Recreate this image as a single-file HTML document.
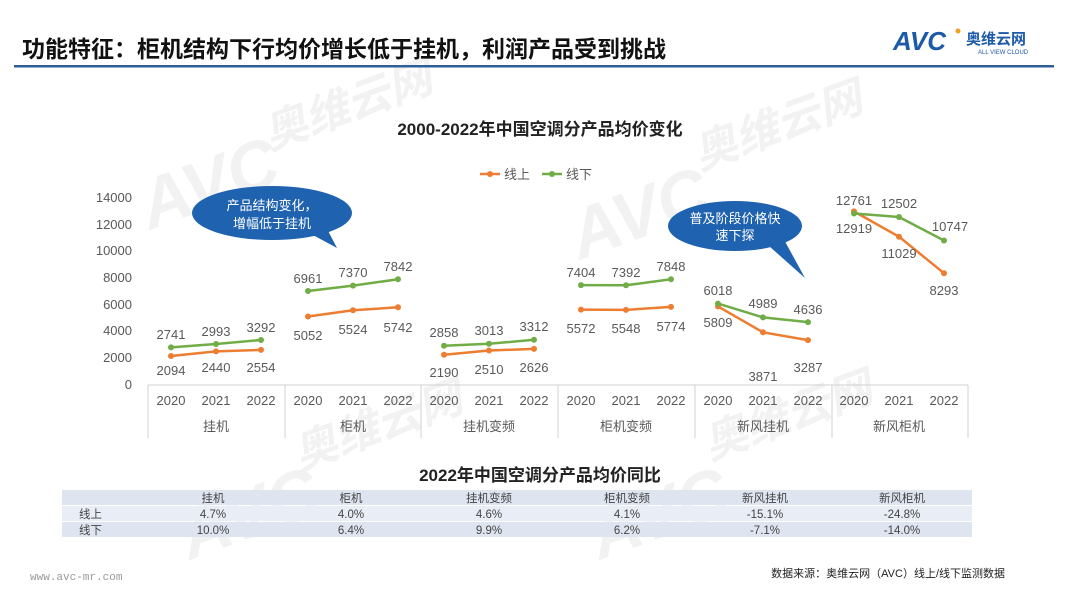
<!DOCTYPE html>
<html><head><meta charset="utf-8"><style>
body{margin:0;width:1080px;height:608px;background:#fff;overflow:hidden;font-family:"Liberation Sans","Noto Sans CJK SC",sans-serif;}
</style></head><body>
<svg width="1080" height="608" xmlns="http://www.w3.org/2000/svg" font-family="Liberation Sans, Noto Sans CJK SC, sans-serif">
<g fill="#f2f2f2" font-weight="bold" font-style="italic">
<text x="150" y="230" font-size="70" transform="rotate(-20 150 230)">AVC</text>
<text x="270" y="150" font-size="44" transform="rotate(-20 270 150)">奥维云网</text>
<text x="580" y="260" font-size="70" transform="rotate(-20 580 260)">AVC</text>
<text x="700" y="170" font-size="44" transform="rotate(-20 700 170)">奥维云网</text>
<text x="190" y="560" font-size="70" transform="rotate(-20 190 560)">AVC</text>
<text x="300" y="470" font-size="44" transform="rotate(-20 300 470)">奥维云网</text>
<text x="600" y="560" font-size="70" transform="rotate(-20 600 560)">AVC</text>
<text x="710" y="460" font-size="44" transform="rotate(-20 710 460)">奥维云网</text>
</g>
<text x="22" y="57" font-size="23" font-weight="bold" fill="#111">功能特征：柜机结构下行均价增长低于挂机，利润产品受到挑战</text>
<rect x="14" y="65" width="1040" height="2.5" fill="#2f5f9a"/>
<text x="893" y="50" font-size="26" font-weight="bold" font-style="italic" fill="#1d5aa8">AVC</text>
<circle cx="958" cy="31" r="2.5" fill="#f0a020"/>
<text x="966" y="44" font-size="15" font-weight="bold" fill="#1d5aa8">奥维云网</text>
<text x="978" y="54" font-size="6" fill="#1d5aa8">ALL VIEW CLOUD</text>
<text x="540" y="135" font-size="17" font-weight="bold" text-anchor="middle" fill="#222">2000-2022年中国空调分产品均价变化</text>
<line x1="480" y1="174" x2="500" y2="174" stroke="#ed7d31" stroke-width="2.5"/><circle cx="490" cy="174" r="3" fill="#ed7d31"/>
<text x="504" y="179" font-size="13" fill="#595959">线上</text>
<line x1="542" y1="174" x2="562" y2="174" stroke="#70ad47" stroke-width="2.5"/><circle cx="552" cy="174" r="3" fill="#70ad47"/>
<text x="566" y="179" font-size="13" fill="#595959">线下</text>
<g font-size="13" fill="#595959" text-anchor="end">
<text x="132" y="202">14000</text><text x="132" y="229">12000</text><text x="132" y="255">10000</text>
<text x="132" y="282">8000</text><text x="132" y="309">6000</text><text x="132" y="335">4000</text>
<text x="132" y="362">2000</text><text x="132" y="389">0</text>
</g>
<g stroke="#d0d0d0" stroke-width="1">
<line x1="148" y1="385" x2="968" y2="385"/>
<line x1="148" y1="385" x2="148" y2="438"/><line x1="285" y1="385" x2="285" y2="438"/>
<line x1="421" y1="385" x2="421" y2="438"/><line x1="558" y1="385" x2="558" y2="438"/>
<line x1="695" y1="385" x2="695" y2="438"/><line x1="832" y1="385" x2="832" y2="438"/>
<line x1="968" y1="385" x2="968" y2="438"/>
</g>
<g font-size="13" fill="#595959" text-anchor="middle">
<text x="171" y="405">2020</text><text x="216" y="405">2021</text><text x="261" y="405">2022</text>
<text x="308" y="405">2020</text><text x="353" y="405">2021</text><text x="398" y="405">2022</text>
<text x="444" y="405">2020</text><text x="489" y="405">2021</text><text x="534" y="405">2022</text>
<text x="581" y="405">2020</text><text x="626" y="405">2021</text><text x="671" y="405">2022</text>
<text x="718" y="405">2020</text><text x="763" y="405">2021</text><text x="808" y="405">2022</text>
<text x="854" y="405">2020</text><text x="899" y="405">2021</text><text x="944" y="405">2022</text>
<text x="216" y="431">挂机</text><text x="353" y="431">柜机</text><text x="489" y="431">挂机变频</text>
<text x="626" y="431">柜机变频</text><text x="763" y="431">新风挂机</text><text x="899" y="431">新风柜机</text>
</g>
<g fill="none" stroke-width="2.5">
<polyline stroke="#ed7d31" points="171,356 216,351.4 261,349.9"/>
<polyline stroke="#70ad47" points="171,347.4 216,344 261,340"/>
<polyline stroke="#ed7d31" points="308,316.5 353,310.2 398,307.3"/>
<polyline stroke="#70ad47" points="308,291 353,285.6 398,279.3"/>
<polyline stroke="#ed7d31" points="444,354.7 489,350.5 534,348.9"/>
<polyline stroke="#70ad47" points="444,345.8 489,343.8 534,339.8"/>
<polyline stroke="#ed7d31" points="581,309.6 626,309.9 671,306.9"/>
<polyline stroke="#70ad47" points="581,285.1 626,285.3 671,279.2"/>
<polyline stroke="#ed7d31" points="718,306.4 763,332.3 808,340.1"/>
<polyline stroke="#70ad47" points="718,303.6 763,317.4 808,322.1"/>
<polyline stroke="#ed7d31" points="854,211.4 899,236.7 944,273.2"/>
<polyline stroke="#70ad47" points="854,213.5 899,217 944,240.5"/>
</g>
<g fill="#ed7d31">
<circle cx="171" cy="356" r="3"/><circle cx="216" cy="351.4" r="3"/><circle cx="261" cy="349.9" r="3"/>
<circle cx="308" cy="316.5" r="3"/><circle cx="353" cy="310.2" r="3"/><circle cx="398" cy="307.3" r="3"/>
<circle cx="444" cy="354.7" r="3"/><circle cx="489" cy="350.5" r="3"/><circle cx="534" cy="348.9" r="3"/>
<circle cx="581" cy="309.6" r="3"/><circle cx="626" cy="309.9" r="3"/><circle cx="671" cy="306.9" r="3"/>
<circle cx="718" cy="306.4" r="3"/><circle cx="763" cy="332.3" r="3"/><circle cx="808" cy="340.1" r="3"/>
<circle cx="854" cy="211.4" r="3"/><circle cx="899" cy="236.7" r="3"/><circle cx="944" cy="273.2" r="3"/>
</g>
<g fill="#70ad47">
<circle cx="171" cy="347.4" r="3"/><circle cx="216" cy="344" r="3"/><circle cx="261" cy="340" r="3"/>
<circle cx="308" cy="291" r="3"/><circle cx="353" cy="285.6" r="3"/><circle cx="398" cy="279.3" r="3"/>
<circle cx="444" cy="345.8" r="3"/><circle cx="489" cy="343.8" r="3"/><circle cx="534" cy="339.8" r="3"/>
<circle cx="581" cy="285.1" r="3"/><circle cx="626" cy="285.3" r="3"/><circle cx="671" cy="279.2" r="3"/>
<circle cx="718" cy="303.6" r="3"/><circle cx="763" cy="317.4" r="3"/><circle cx="808" cy="322.1" r="3"/>
<circle cx="854" cy="213.5" r="3"/><circle cx="899" cy="217" r="3"/><circle cx="944" cy="240.5" r="3"/>
</g>
<g font-size="13" fill="#595959" text-anchor="middle">
<text x="171" y="339">2741</text><text x="216" y="336">2993</text><text x="261" y="332">3292</text>
<text x="171" y="375">2094</text><text x="216" y="372">2440</text><text x="261" y="372">2554</text>
<text x="308" y="283">6961</text><text x="353" y="277">7370</text><text x="398" y="271">7842</text>
<text x="308" y="340">5052</text><text x="353" y="334">5524</text><text x="398" y="332">5742</text>
<text x="444" y="337">2858</text><text x="489" y="335">3013</text><text x="534" y="331">3312</text>
<text x="444" y="377">2190</text><text x="489" y="374">2510</text><text x="534" y="372">2626</text>
<text x="581" y="277">7404</text><text x="626" y="277">7392</text><text x="671" y="271">7848</text>
<text x="581" y="333">5572</text><text x="626" y="333">5548</text><text x="671" y="331">5774</text>
<text x="718" y="295">6018</text><text x="763" y="308">4989</text><text x="808" y="314">4636</text>
<text x="718" y="327">5809</text><text x="763" y="381">3871</text><text x="808" y="372">3287</text>
<text x="854" y="205">12761</text><text x="899" y="208">12502</text><text x="950" y="231">10747</text>
<text x="854" y="233">12919</text><text x="899" y="258">11029</text><text x="944" y="295">8293</text>
</g>
<g fill="#1f62b0">
<ellipse cx="272" cy="213" rx="80" ry="27"/>
<polygon points="300,228 325,225 337,248"/>
<ellipse cx="735" cy="226" rx="67" ry="25"/>
<polygon points="760,238 782,236 805,278"/>
</g>
<g fill="#fff" font-size="13" text-anchor="middle">
<text x="272" y="210">产品结构变化，</text><text x="272" y="228">增幅低于挂机</text>
<text x="735" y="223">普及阶段价格快</text><text x="735" y="240">速下探</text>
</g>
<text x="540" y="481" font-size="17" font-weight="bold" text-anchor="middle" fill="#222">2022年中国空调分产品均价同比</text>
<rect x="62" y="490" width="910" height="15" fill="#dfe5f0"/>
<rect x="62" y="506" width="910" height="15" fill="#e9edf5"/>
<rect x="62" y="522" width="910" height="15" fill="#dfe5f0"/>
<g font-size="11.5" fill="#444" text-anchor="middle">
<text x="213" y="502">挂机</text><text x="351" y="502">柜机</text><text x="489" y="502">挂机变频</text>
<text x="627" y="502">柜机变频</text><text x="765" y="502">新风挂机</text><text x="902" y="502">新风柜机</text>
<text x="213" y="518">4.7%</text><text x="351" y="518">4.0%</text><text x="489" y="518">4.6%</text>
<text x="627" y="518">4.1%</text><text x="765" y="518">-15.1%</text><text x="902" y="518">-24.8%</text>
<text x="213" y="534">10.0%</text><text x="351" y="534">6.4%</text><text x="489" y="534">9.9%</text>
<text x="627" y="534">6.2%</text><text x="765" y="534">-7.1%</text><text x="902" y="534">-14.0%</text>
</g>
<g font-size="11.5" fill="#444"><text x="79" y="518">线上</text><text x="79" y="534">线下</text></g>
<text x="30" y="580" font-size="11" fill="#999" font-family="Liberation Mono, monospace">www.avc-mr.com</text>
<text x="1005" y="577" font-size="11" fill="#222" text-anchor="end">数据来源：奥维云网（AVC）线上/线下监测数据</text>
</svg>
</body></html>
